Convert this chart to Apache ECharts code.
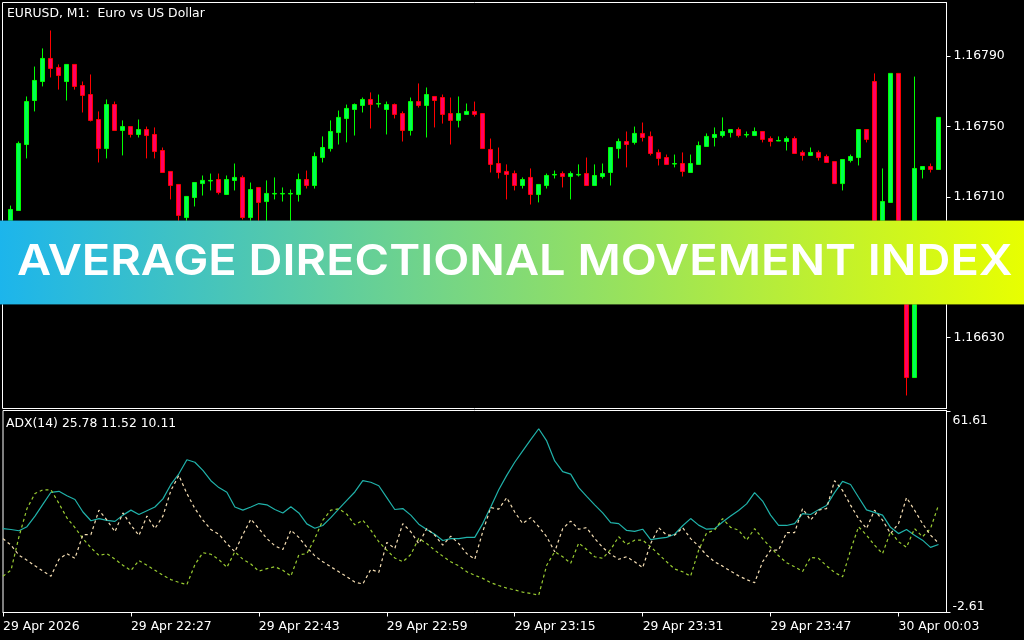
<!DOCTYPE html>
<html lang="en">
<head>
<meta charset="UTF-8">
<title>Average Directional Movement Index</title>
<style>
    * { padding: 0; margin: 0; }
    body { background: #000; }
</style>
<script src="https://cdn.jsdelivr.net/npm/echarts@6/dist/echarts.min.js"></script>
</head>
<body>
<div id="main" style="width:1024px;height:640px;"></div>
<script>
// prices are kept in points above 1.16000 (702.8 = 1.167028)
var base = 1.16;
var opens = [688.0,702.2,739.7,764.7,775.5,788.6,783.5,775.5,785.2,773.2,768.1,753.9,737.4,762.4,747.7,749.9,745.4,748.2,745.4,736.3,724.4,717.0,698.2,709.6,717.5,719.0,719.8,711.3,719.3,721.0,698.2,715.3,707.3,711.6,711.6,711.6,711.3,719.8,716.4,732.3,737.4,746.5,754.5,759.6,761.9,765.3,762.7,759.6,762.4,757.3,747.7,764.1,761.9,767.0,766.4,757.3,753.4,756.8,758.5,757.3,736.9,728.9,724.4,723.2,716.4,721.0,711.3,716.4,722.4,723.2,721.5,722.4,723.2,716.4,721.5,723.8,737.4,741.4,740.9,746.0,744.3,735.2,732.3,728.6,728.9,723.8,728.4,738.6,743.7,744.8,746.5,748.2,745.1,744.8,747.1,743.1,741.7,741.4,743.1,735.2,733.5,735.2,732.9,730.0,717.5,730.6,732.3,748.2,775.5,668.1,706.8,780.1,675.0,607.3,725.5,727.2,725.5];
var closes = [702.8,740.3,764.1,776.1,788.6,782.9,778.9,785.2,772.7,767.6,753.4,737.4,762.4,747.7,749.9,745.4,748.2,744.8,735.7,723.8,716.4,699.4,710.2,718.1,719.3,719.3,712.4,719.8,721.0,698.2,714.1,706.8,711.9,711.9,711.9,711.9,719.8,716.4,732.9,738.0,747.1,755.1,760.2,762.4,765.3,762.4,763.0,762.4,756.8,747.7,764.1,761.9,768.1,764.7,756.8,753.4,757.3,758.5,756.8,737.4,728.4,723.8,722.7,716.4,719.8,711.3,717.0,722.1,722.7,721.5,723.2,722.7,716.4,722.1,723.2,738.0,741.4,739.7,746.0,743.7,734.6,731.8,728.4,728.9,724.4,728.9,739.1,744.3,745.4,747.1,748.2,744.8,745.4,747.1,742.6,741.4,742.0,743.1,734.6,733.5,735.2,732.3,729.5,717.5,731.2,732.9,748.2,742.6,668.1,707.3,780.1,675.0,607.3,726.1,727.2,725.5,755.1];
var lows = [685.2,702.2,731.8,758.5,772.7,777.8,770.9,764.7,770.9,757.9,752.8,729.5,731.8,747.7,733.5,743.7,743.7,731.8,731.8,723.8,708.5,695.4,693.7,704.5,710.7,713.6,711.3,711.3,713.6,697.1,695.4,693.7,693.7,708.5,707.3,693.7,707.3,714.7,714.7,729.5,735.7,739.7,740.9,744.8,757.9,748.8,760.7,745.4,754.5,741.4,744.8,760.7,743.7,749.4,751.6,739.7,749.4,756.8,755.6,737.4,723.8,720.4,708.5,713.6,714.7,705.6,706.8,714.7,720.4,715.3,708.5,721.5,716.4,716.4,720.4,716.4,731.8,726.7,739.7,741.4,733.5,727.8,728.4,726.7,721.5,723.8,728.4,738.6,738.6,743.7,743.7,743.7,743.7,744.8,740.9,738.6,741.7,736.3,734.6,730.6,733.5,730.6,729.5,717.5,713.6,729.5,727.8,740.9,668.1,662.4,706.8,670.0,597.1,607.3,720.4,723.8,725.5];
var highs = [705.0,741.4,767.0,784.0,794.3,804.5,785.2,785.2,785.2,775.5,779.5,758.5,765.3,764.1,753.4,749.9,753.9,749.9,749.4,738.0,724.4,717.0,710.2,718.1,722.1,723.2,723.2,722.1,728.9,722.1,718.1,715.3,719.3,721.0,715.3,714.1,723.2,724.9,735.2,744.3,753.4,759.0,762.4,763.0,766.4,769.3,768.1,764.1,763.0,758.5,766.4,774.4,772.1,767.0,768.1,766.4,767.0,763.0,764.1,757.3,743.1,738.0,728.4,724.9,721.0,726.1,717.0,723.2,724.9,724.4,724.4,728.4,732.3,728.4,728.9,738.0,743.1,747.1,749.9,752.2,747.1,736.9,734.0,734.0,735.2,734.0,741.4,746.0,749.4,755.1,748.2,749.4,747.1,749.4,747.1,744.3,744.3,744.3,744.3,736.3,738.0,736.3,734.0,730.0,731.2,734.0,748.2,748.2,780.1,726.1,780.1,780.1,675.0,778.3,727.2,728.9,755.1];

var adx = [24.2,23.9,23.5,24.8,28.2,32.0,35.8,36.1,34.7,33.5,29.5,26.7,27.4,26.8,26.5,28.5,30.1,28.7,29.9,31.1,33.7,38.3,41.7,46.2,45.4,42.8,39.5,37.3,35.8,31.1,30.1,31.1,32.2,31.8,30.3,29.2,31.2,29.2,25.7,24.3,25.2,27.7,30.5,33.2,35.9,39.5,39.0,37.9,34.1,30.3,30.6,28.5,25.6,23.9,22.4,20.4,21.0,21.0,21.4,21.4,25.8,31.1,36.6,41.2,45.4,49.0,52.6,56.1,52.2,45.8,42.4,41.6,37.3,34.5,31.8,29.2,26.1,25.8,23.6,23.3,24.0,20.7,21.1,21.4,22.4,25.1,27.4,25.3,24.0,24.2,26.3,28.2,30.0,32.1,35.7,33.0,28.5,25.2,25.2,25.8,29.0,28.7,30.2,31.6,35.7,39.3,38.3,34.2,30.2,29.4,28.5,24.6,22.6,23.9,22.1,20.5,18.2,19.1];
var plusDi = [9.0,10.9,21.6,30.6,35.4,36.6,36.6,32.2,27.6,24.5,21.0,18.1,15.6,16.2,14.4,12.5,10.8,14.0,12.5,10.9,9.3,7.9,7.0,6.3,12.7,16.5,16.0,14.3,11.8,16.8,14.4,12.9,10.6,11.4,12.0,10.9,9.0,15.8,16.2,21.0,26.9,30.1,30.5,28.8,25.4,26.9,23.7,20.0,17.3,14.8,13.6,15.9,21.1,19.4,17.3,15.4,13.6,12.3,10.4,9.3,8.3,6.9,6.0,5.2,4.6,3.9,3.5,2.9,12.5,16.8,15.2,13.1,19.6,17.5,15.2,14.7,17.5,21.6,19.1,20.5,20.5,18.4,16.0,13.6,11.3,10.4,9.0,17.3,22.8,23.7,27.4,24.6,23.7,20.5,24.2,21.0,18.2,15.5,13.3,12.0,10.5,15.0,14.7,12.3,10.2,8.8,17.3,24.8,22.1,18.9,16.2,23.2,20.0,18.2,24.2,21.6,24.2,31.7];
var minusDi = [21.0,18.9,15.7,14.1,12.3,10.6,9.0,14.4,16.2,14.7,22.3,22.3,30.1,26.9,23.2,29.2,25.3,22.0,28.2,24.2,28.2,36.4,41.2,35.4,30.6,26.9,23.9,22.4,19.4,16.8,22.3,27.2,24.2,21.0,18.7,17.5,23.7,21.4,18.2,15.5,13.6,12.0,10.4,8.8,7.1,6.5,11.2,10.2,19.8,17.8,25.8,23.2,19.4,24.2,22.1,18.9,21.8,19.4,16.2,14.4,23.2,30.9,30.4,34.1,29.5,25.8,27.7,24.8,21.6,16.8,24.2,26.6,24.0,24.5,21.0,18.2,16.0,14.4,15.2,13.6,11.7,19.4,24.5,22.1,22.1,24.5,21.0,18.6,15.7,13.6,12.2,10.6,9.1,7.9,6.9,13.6,17.3,17.3,22.9,22.9,30.6,26.9,30.1,30.6,39.5,36.4,31.7,27.4,24.2,30.1,26.9,22.6,25.8,34.1,30.1,25.8,22.1,19.6];

var priceTicks = [630, 670, 710, 750, 790];
var adxTicks = [-2.61, 61.61];
var timeLabels = ['29 Apr 2026', '29 Apr 22:27', '29 Apr 22:43', '29 Apr 22:59', '29 Apr 23:15', '29 Apr 23:31', '29 Apr 23:47', '30 Apr 00:03'];

// one slot every 8px, a time label every 16 slots
var slots = [];
for (var i = 0; i < 119; i++) slots.push(i % 16 === 0 ? timeLabels[i / 16] : String(i));
var everySixteen = function (idx) { return idx % 16 === 0; };

var blank = ['-', '-', '-', '-'];
var candles = [blank].concat(opens.map(function (o, k) {
    return [o, closes[k], lows[k], highs[k]];
}));
candles.push(blank);

var font = 'DejaVu Sans';
var fontSize = 12.4;

var myChart = echarts.init(document.getElementById('main'));
myChart.setOption({
    backgroundColor: '#000',
    animation: false,
    title: [
        { text: 'EURUSD, M1:  Euro vs US Dollar', left: 7, top: 8, padding: 0, textStyle: { color: '#fff', fontSize: fontSize, fontWeight: 'normal', fontFamily: font } },
        { text: 'ADX(14) 25.78 11.52 10.11', left: 6, top: 418, padding: 0, textStyle: { color: '#fff', fontSize: fontSize, fontWeight: 'normal', fontFamily: font } }
    ],
    grid: [
        { left: 2.5, width: 944, top: 2.5, height: 406, show: true, borderColor: '#fff', borderWidth: 1, backgroundColor: '#000' },
        { left: 2.5, width: 944, top: 410.5, height: 202, show: true, borderColor: '#fff', borderWidth: 1, backgroundColor: '#000' }
    ],
    xAxis: [
        { type: 'category', gridIndex: 0, data: slots, boundaryGap: false, show: false },
        {
            type: 'category', gridIndex: 1, data: slots, boundaryGap: false,
            axisLine: { onZero: false, lineStyle: { color: '#fff', width: 1 } },
            axisTick: { interval: everySixteen, length: 4, lineStyle: { color: '#fff' } },
            axisLabel: { interval: everySixteen, align: 'left', color: '#fff', fontSize: fontSize, fontFamily: font, margin: 8, hideOverlap: false, formatter: function (v) { return v; } },
            splitLine: { show: false }
        }
    ],
    yAxis: [
        {
            type: 'value', gridIndex: 0, position: 'right', scale: true, min: 589.71, max: 820.39,
            axisLine: { show: true, lineStyle: { color: '#fff' } },
            axisTick: { show: true, length: 4, customValues: priceTicks, lineStyle: { color: '#fff' } },
            axisLabel: {
                customValues: priceTicks, color: '#fff', fontSize: fontSize, fontFamily: font, margin: 7, padding: [3, 0, 0, 0],
                formatter: function (v) { return (base + v / 1e5).toFixed(5); }
            },
            splitLine: { show: false }
        },
        {
            type: 'value', gridIndex: 1, position: 'right', min: -2.61, max: 61.93,
            axisLine: { show: true, lineStyle: { color: '#fff' } },
            axisTick: { show: true, length: 4, customValues: adxTicks, lineStyle: { color: '#fff' } },
            axisLabel: {
                customValues: adxTicks, color: '#fff', fontSize: fontSize, fontFamily: font, margin: 6,
                verticalAlignMinLabel: 'bottom', verticalAlignMaxLabel: 'top',
                rich: { hi: { padding: [3, 0, 0, 0], color: '#fff', fontSize: fontSize, fontFamily: font } },
                formatter: function (v) { return v > 0 ? '{hi|' + v.toFixed(2) + '}' : v.toFixed(2); }
            },
            splitLine: { show: false }
        }
    ],
    series: [
        {
            type: 'candlestick', name: 'EURUSD', xAxisIndex: 0, yAxisIndex: 0, barWidth: 5, data: candles,
            itemStyle: { color: '#00ff55', color0: '#ff0066', borderColor: '#00ff00', borderColor0: '#ff0000', borderWidth: 1 }
        },
        { type: 'line', name: 'ADX', xAxisIndex: 1, yAxisIndex: 1, data: adx, symbol: 'none', lineStyle: { color: '#20b2aa', width: 1.2 } },
        { type: 'line', name: '+DI', xAxisIndex: 1, yAxisIndex: 1, data: plusDi, symbol: 'none', lineStyle: { color: '#9acd32', width: 1.2, type: [3, 3] } },
        { type: 'line', name: '-DI', xAxisIndex: 1, yAxisIndex: 1, data: minusDi, symbol: 'none', lineStyle: { color: '#f5deb3', width: 1.2, type: [3, 3] } }
    ],
    graphic: [
        {
            type: 'rect', z: 100, left: -1, top: 220,
            shape: { x: 0, y: 0, width: 1026, height: 84 },
            style: {
                fill: new echarts.graphic.LinearGradient(0, 0, 1, 0, [
                    { offset: 0, color: '#1cb5ec' },
                    { offset: 1, color: '#e8ff00' }
                ]),
                stroke: 'rgba(0,0,0,0.18)', lineWidth: 1
            }
        },
        {
            type: 'text', z: 101, x: 17, y: 241, scaleX: 1.092,
            style: { text: 'AVERAGE DIRECTIONAL MOVEMENT INDEX', fill: '#fff', font: '600 43px Inter' }
        }
    ]
});
</script>
</body>
</html>
